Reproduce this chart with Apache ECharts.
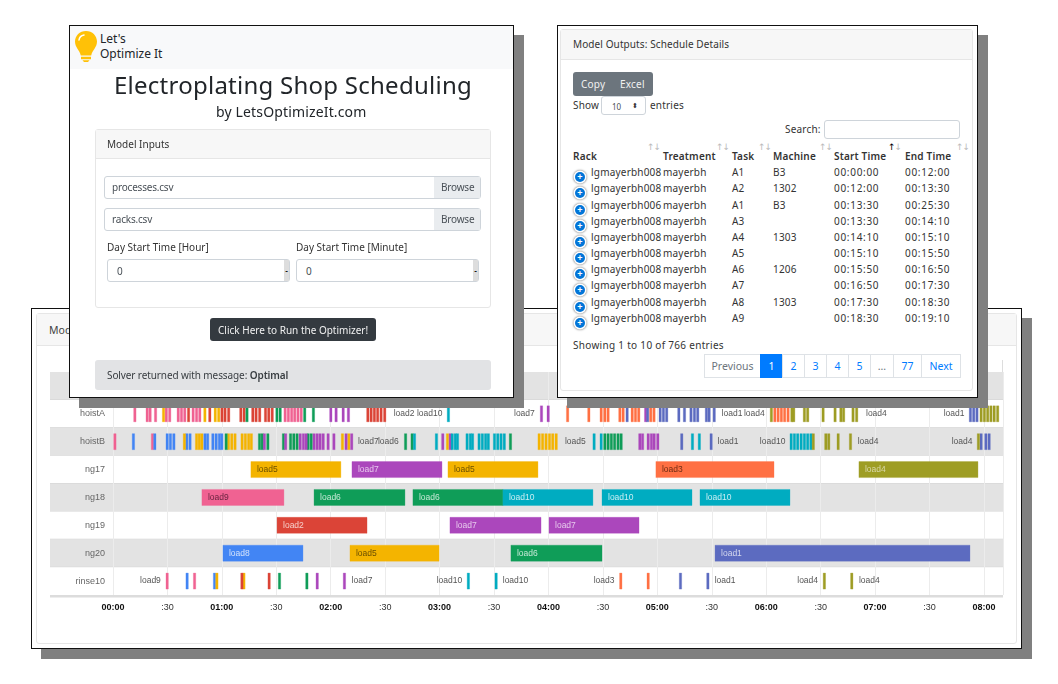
<!doctype html>
<html lang="en">

<head>
  <meta charset="UTF-8">
  <title>Electroplating Shop Scheduling</title>
  <style>
    * {
      margin: 0;
      padding: 0;
      box-sizing: border-box;
    }

    html,
    body {
      width: 1058px;
      height: 684px;
      overflow: hidden;
      background: #ffffff;
      font-family: "Noto Sans", sans-serif;
      font-size: 10px;
      color: #212529;
    }

    .box,
    .t {
      position: absolute;
    }

    .t {
      white-space: nowrap;
      transform: translateY(-50%);
    }

    .wide {
      letter-spacing: .2px;
    }

    .tight {
      letter-spacing: -.2px;
    }

    .shot {
      background: #ffffff;
      border: 1px solid #111111;
      box-shadow: 10px 10px 0 #808080;
    }

    .card {
      border: 1px solid #e6e6e6;
      border-radius: 3px;
      background: #ffffff;
    }

    .card-head {
      background: #f7f7f7;
      border-bottom: 1px solid #e6e6e6;
    }

    .input {
      background: #ffffff;
      border: 1px solid #ced4da;
      border-radius: 3px;
    }

    #main {
      position: absolute;
      left: 0;
      top: 0;
      width: 1058px;
      height: 684px;
    }

    .plus {
      position: absolute;
      left: 575px;
      width: 10px;
      height: 10px;
      border-radius: 50%;
      background: #0275d8;
      box-shadow: 0 0 0 1.5px #ffffff, 0 0 2px 2px #999999;
      color: #ffffff;
      font: bold 9px/10px "Liberation Sans", sans-serif;
      text-align: center;
    }

    .page {
      position: absolute;
      top: 354px;
      height: 24px;
      line-height: 22px;
      text-align: center;
      border: 1px solid #dee2e6;
      color: #007bff;
      font-size: 10.5px;
    }
  </style>
</head>

<body>
  <!-- timeline screenshot -->
  <div class="box shot" style="left:31px;top:308px;width:991px;height:341px"></div>
  <div class="box card" style="left:36px;top:313px;width:981px;height:331px"></div>
  <div class="box card-head" style="left:37px;top:314px;width:979px;height:32px"></div>
  <div class="t" style="left:49px;top:330px;font-size:10.5px;color:#444">Mod</div>
  <div class="box" style="left:1002px;top:360px;width:1px;height:12px;background:#dddddd"></div>
  <div id="main"></div>

  <!-- inputs screenshot -->
  <div class="box shot" style="left:69px;top:25px;width:445px;height:373px"></div>
  <div class="box" style="left:70px;top:26px;width:443px;height:43px;background:#f8f9fa"></div>
  <svg class="box" style="left:74px;top:30px" width="24" height="33" viewBox="0 0 24 33">
    <path d="M12 1C5.6 1 1 5.800 1 11.500c0 6 4.600 8.500 5.800 14h10.400c1.200-5.500 5.800-8 5.800-14C23 5.800 18.400 1 12 1z" fill="#ffc107" />
    <path d="M7 26.800h10v2.400H7zM8.500 30.200h7L14 32h-4z" fill="#ffc107" />
    <path d="M5 10c.4-2.800 2.300-4.600 5-5" fill="none" stroke="#ffffff" stroke-width="1.500" stroke-linecap="round" />
  </svg>
  <div class="t" style="left:100px;top:38px;font-size:12px">Let's</div>
  <div class="t" style="left:100px;top:53px;font-size:12px">Optimize It</div>
  <div class="t" style="left:114px;top:84px;font-size:24px;letter-spacing:.25px">Electroplating Shop Scheduling</div>
  <div class="t" style="left:216px;top:111px;font-size:14px;letter-spacing:.15px">by LetsOptimizeIt.com</div>

  <div class="box card" style="left:95px;top:129px;width:396px;height:179px"></div>
  <div class="box card-head" style="left:96px;top:130px;width:394px;height:29px"></div>
  <div class="t" style="left:107px;top:144px;font-size:10px;color:#333">Model Inputs</div>

  <div class="box input" style="left:104px;top:176px;width:377px;height:23px"></div>
  <div class="box" style="left:434px;top:177px;width:46px;height:21px;background:#e9ecef"></div>
  <div class="t tight" style="left:112px;top:187px;color:#495057">processes.csv</div>
  <div class="t tight" style="left:441px;top:187px;color:#495057">Browse</div>
  <div class="box input" style="left:104px;top:208px;width:377px;height:23px"></div>
  <div class="box" style="left:434px;top:209px;width:46px;height:21px;background:#e9ecef"></div>
  <div class="t tight" style="left:112px;top:219px;color:#495057">racks.csv</div>
  <div class="t tight" style="left:441px;top:219px;color:#495057">Browse</div>

  <div class="t" style="left:107px;top:247px;color:#333">Day Start Time [Hour]</div>
  <div class="t" style="left:296px;top:247px;color:#333">Day Start Time [Minute]</div>
  <div class="box input" style="left:107px;top:259px;width:183px;height:23px"></div>
  <div class="box" style="left:284px;top:260px;width:5px;height:21px;background:#dddddd;color:#000;font:bold 8px/21px sans-serif;text-align:center">-</div>
  <div class="t" style="left:117px;top:271px;color:#495057">0</div>
  <div class="box input" style="left:296px;top:259px;width:183px;height:23px"></div>
  <div class="box" style="left:473px;top:260px;width:5px;height:21px;background:#dddddd;color:#000;font:bold 8px/21px sans-serif;text-align:center">-</div>
  <div class="t" style="left:306px;top:271px;color:#495057">0</div>

  <div class="box" style="left:210px;top:318px;width:166px;height:23px;background:#343a40;border-radius:3px"></div>
  <div class="t" style="left:218px;top:330px;color:#f1f1f1">Click Here to Run the Optimizer!</div>

  <div class="box" style="left:95px;top:360px;width:396px;height:30px;background:#e2e3e5;border-radius:3px"></div>
  <div class="t" style="left:107px;top:375px;color:#383d41;letter-spacing:-.1px">Solver returned with message: <b style="font-weight:600">Optimal</b></div>

  <!-- outputs screenshot -->
  <div class="box shot" style="left:557px;top:25px;width:421px;height:373px"></div>
  <div class="box card" style="left:560px;top:29px;width:413px;height:362px"></div>
  <div class="box card-head" style="left:561px;top:30px;width:411px;height:30px"></div>
  <div class="t" style="left:573px;top:44px;color:#333;letter-spacing:.1px">Model Outputs: Schedule Details</div>

  <div class="box" style="left:573px;top:72px;width:80px;height:24px;background:#6c757d;border-radius:3px"></div>
  <div class="t wide" style="left:581px;top:84px;color:#f1f1f1">Copy</div>
  <div class="t wide" style="left:620px;top:84px;color:#f1f1f1">Excel</div>

  <div class="t wide" style="left:573px;top:105px;color:#333">Show</div>
  <div class="box input" style="left:601px;top:96px;width:45px;height:19px"></div>
  <div class="t" style="left:612px;top:106px;font-size:8px;color:#495057">10</div>
  <div class="t" style="left:632px;top:105px;font-size:7px;color:#333">⬍</div>
  <div class="t wide" style="left:650px;top:105px;color:#333">entries</div>

  <div class="t wide" style="left:785px;top:129px;color:#333">Search:</div>
  <div class="box input" style="left:824px;top:120px;width:136px;height:19px"></div>

  <div id="table"></div>

  <div class="t" style="left:573px;top:345px;color:#333;letter-spacing:.3px">Showing 1 to 10 of 766 entries</div>
  <div id="pages"></div>
</body>

</html>
<script src="https://cdn.jsdelivr.net/npm/echarts@6/dist/echarts.min.js"></script>
<script>
  // schedule table
  let headers = [
    ['Rack', 573, 651], ['Treatment', 663, 720], ['Task', 732, 762],
    ['Machine', 773, 823], ['Start Time', 834, 892], ['End Time', 905, 960]
  ];
  let rows = [
    ['lgmayerbh008', 'mayerbh', 'A1', 'B3', '00:00:00', '00:12:00'],
    ['lgmayerbh008', 'mayerbh', 'A2', '1302', '00:12:00', '00:13:30'],
    ['lgmayerbh006', 'mayerbh', 'A1', 'B3', '00:13:30', '00:25:30'],
    ['lgmayerbh008', 'mayerbh', 'A3', '', '00:13:30', '00:14:10'],
    ['lgmayerbh008', 'mayerbh', 'A4', '1303', '00:14:10', '00:15:10'],
    ['lgmayerbh008', 'mayerbh', 'A5', '', '00:15:10', '00:15:50'],
    ['lgmayerbh008', 'mayerbh', 'A6', '1206', '00:15:50', '00:16:50'],
    ['lgmayerbh008', 'mayerbh', 'A7', '', '00:16:50', '00:17:30'],
    ['lgmayerbh008', 'mayerbh', 'A8', '1303', '00:17:30', '00:18:30'],
    ['lgmayerbh008', 'mayerbh', 'A9', '', '00:18:30', '00:19:10']
  ];
  let colX = [591, 663, 732, 773, 834, 905];
  let rowY = [172, 188, 205, 221, 237, 253, 269, 285, 302, 318];
  let str = '';
  headers.forEach(function (h) {
    let dark = h[0] === 'Start Time' ? '#000000' : '#bbbbbb';
    str += `<div class="t wide" style="left:${h[1]}px;top:156px;font-weight:600;color:#333">${h[0]}</div>`;
    str += `<div class="t" style="left:${h[2] - 4}px;top:147px;font-size:9px;letter-spacing:-1px;font-family:'DejaVu Sans';color:#bbb"><span style="color:${dark}">↑</span>↓</div>`;
  });
  rows.forEach(function (r, i) {
    str += `<div class="plus" style="top:${rowY[i] + 0}px">+</div>`;
    r.forEach(function (v, j) {
      let gap = j >= 4 ? .7 : .2;
      if (v) str += `<div class="t" style="left:${colX[j]}px;top:${rowY[i]}px;color:#333;letter-spacing:${gap}px">${v}</div>`;
    });
  });
  document.getElementById('table').innerHTML = str;

  let pages = [
    ['Previous', 704, 56], ['1', 760, 22], ['2', 782, 22], ['3', 804, 22], ['4', 826, 22],
    ['5', 848, 22], ['…', 870, 23], ['77', 893, 28], ['Next', 921, 39]
  ];
  str = '';
  pages.forEach(function (p) {
    let extra = p[0] === '1' ? 'background:#007bff;border-color:#007bff;color:#fff;' : (p[0] === 'Previous' || p[0] === '…' ? 'color:#6c757d;' : '');
    str += `<div class="page" style="left:${p[1]}px;width:${p[2] + 1}px;${extra}">${p[0]}</div>`;
  });
  document.getElementById('pages').innerHTML = str;

  // timeline, all times in minutes from 00:00
  let loadColors = {
    load1: '#5c6bc0', load2: '#db4437', load3: '#ff7043', load4: '#9e9d24', load5: '#f4b400',
    load6: '#0f9d58', load7: '#ab47bc', load8: '#4285f4', load9: '#f06292', load10: '#00acc1'
  };
  let loadText = {
    load1: '#d5d8ee', load2: '#f6cfca', load3: '#6e2c14', load4: '#d9d8a8', load5: '#6b5000',
    load6: '#c4e8d5', load7: '#e6c8ec', load8: '#d2e2fc', load9: '#6a2440', load10: '#c8eef3'
  };
  let machines = ['', 'hoistA', 'hoistB', 'ng17', 'ng18', 'ng19', 'ng20', 'rinse10'];

  // long treatments: [machine, load, start, end]
  let longTasks = [
    ['ng17', 'load5', 76, 125.6], ['ng17', 'load7', 131.7, 181.3], ['ng17', 'load5', 184.6, 234.2],
    ['ng17', 'load3', 299.2, 364.3], ['ng17', 'load4', 411.1, 476.7],
    ['ng18', 'load9', 49, 94.2], ['ng18', 'load6', 110.8, 160.9], ['ng18', 'load6', 165.3, 214.9],
    ['ng18', 'load10', 214.9, 264.5], ['ng18', 'load10', 269.5, 319.1], ['ng18', 'load10', 323.5, 373.1],
    ['ng19', 'load2', 90.4, 140], ['ng19', 'load7', 185.7, 235.9], ['ng19', 'load7', 240.3, 289.9],
    ['ng20', 'load8', 60.6, 104.7], ['ng20', 'load5', 130.6, 179.7], ['ng20', 'load6', 219.3, 269.5],
    ['ng20', 'load1', 331.8, 472.3]
  ];

  // short hoist and rinse moves: start minutes per load
  let shortTasks = {
    hoistA: [
      ['load9', [11.4, 18.2, 19.8, 22.8, 28.7, 30.6, 35.3, 37.1, 38.9, 43.5, 45.4, 47.2, 94.2, 96, 97.8, 99.5, 101.3, 103.1]],
      ['load5', [27.2, 50, 55.7, 57.6]],
      ['load2', [41, 52.7, 59.4, 61.1, 63.1, 69.8, 71.6, 76.4, 78.2, 80.2, 83.4, 85.2, 87.1, 139.8, 141.6, 143.4, 145.2, 147.1, 149.1]],
      ['load6', [73.2, 89.7, 91.5, 105, 109.8]],
      ['load7', [119.4, 122.3, 126.2, 129.1, 235.5, 239.2, 292.9]],
      ['load10', [184.2]],
      ['load3', [249.9, 261.6, 268.4, 270.4, 272.2, 278.7, 280.5, 285.5, 287.3, 289.1, 295.7, 297.5, 364.1, 365.9, 367.7, 369.5, 371.4]],
      ['load1', [282.7, 294, 300.9, 302.7, 304.5, 311.2, 314.3, 317.9, 319.8, 321.6, 326.4, 327.9, 330.7, 471.9, 473.7, 475.5]],
      ['load4', [362.2, 373.5, 374.5, 380.4, 382.2, 390.7, 397.3, 400.5, 402, 407.2, 409.2, 477.8, 479.6, 481.4, 483.2, 485, 486.9]]
    ],
    hoistB: [
      ['load9', [0.4, 21.1]],
      ['load8', [10.6, 22.4, 29.2, 31, 32.9, 40, 41.8, 50, 51.5, 54.4, 56.2, 58, 59.3]],
      ['load5', [38.7, 45.4, 46.9, 48.3, 63, 64.8, 66.6, 70.5, 72.3, 74.1, 75.6, 125.8, 129.3, 183.7, 234.2, 236.1, 238, 239.9, 241.7, 243.6]],
      ['load6', [61.7, 80.1, 81.6, 84.7, 93.3, 97.2, 99, 100.8, 106.9, 108.6, 160.6, 164.2, 218.4, 270.4, 272.2, 274, 275.8, 277.7, 279.4]],
      ['load7', [82.8, 94.5, 102.5, 104.3, 105.8, 110.2, 111.9, 113.5, 115.2, 117.9, 121.1, 127.8, 130.9, 181.1, 185.2, 289.7, 291.2, 294.3, 296.1, 297.6, 299.6]],
      ['load10', [165.5, 177.6, 186.3, 188, 189.2, 194.5, 196.3, 197.5, 201.1, 202.9, 204.7, 206.2, 209.6, 211.4, 213.2, 215, 264.5, 268.4, 318.7, 322.5, 373.1, 374.9, 376.7, 378.6, 380.4, 382.2, 384]],
      ['load1', [312.8, 329, 477.8, 480.4, 482.2]],
      ['load4', [385.3, 392.2, 393.8, 399, 405.8, 476.3]]
    ],
    rinse10: [
      ['load9', [29.2, 44.3]],
      ['load8', [40.2, 55.3]],
      ['load5', [56.6, 71.5]],
      ['load2', [70.4, 85.4]],
      ['load6', [91.1, 106.2]],
      ['load7', [111.9, 126.9]],
      ['load10', [195.2, 210.5]],
      ['load3', [279.2, 294.3]],
      ['load1', [312.1, 327.2]],
      ['load4', [391.4, 406.5]]
    ]
  };
  let shortLength = 1.3;

  // labels placed next to the short moves: [machine, text, minute]
  let sideLabels = [
    ['hoistA', 'load2', 154.7], ['hoistA', 'load10', 167.5], ['hoistA', 'load7', 221],
    ['hoistA', 'load1', 335.4], ['hoistA', 'load4', 347.7], ['hoistA', 'load4', 415], ['hoistA', 'load1', 457.8],
    ['hoistB', 'load7', 135], ['hoistB', 'load6', 146], ['hoistB', 'load5', 249.1],
    ['hoistB', 'load1', 333.2], ['hoistB', 'load10', 356.5], ['hoistB', 'load4', 410.4], ['hoistB', 'load4', 462.2],
    ['rinse10', 'load9', 14.9], ['rinse10', 'load7', 131.5], ['rinse10', 'load10', 178.4], ['rinse10', 'load10', 214.8],
    ['rinse10', 'load3', 264.9], ['rinse10', 'load1', 331.6], ['rinse10', 'load4', 377.1], ['rinse10', 'load4', 411.1]
  ];

  let tasks = [];
  longTasks.forEach(function (t) {
    tasks.push({ value: [machines.indexOf(t[0]), t[2], t[3]], load: t[1], named: true });
  });
  Object.keys(shortTasks).forEach(function (m) {
    shortTasks[m].forEach(function (group) {
      group[1].forEach(function (start) {
        tasks.push({ value: [machines.indexOf(m), start, start + shortLength], load: group[0] });
      });
    });
  });

  let myChart = echarts.init(document.getElementById('main'));
  let option = {
    animation: false,
    textStyle: {
      fontFamily: '"Liberation Sans", Arial, sans-serif'
    },
    grid: {
      left: 113,
      top: 372,
      width: 890,
      height: 223
    },
    xAxis: {
      type: 'value',
      min: 0,
      max: 490.5,
      interval: 30,
      z: 2,
      axisLine: { show: false },
      axisTick: { show: false },
      splitLine: {
        lineStyle: { color: '#ececec', width: 1 }
      },
      axisLabel: {
        showMaxLabel: false,
        margin: 8,
        fontSize: 9,
        color: '#333333',
        formatter: function (v) {
          if (v % 60 === 0) {
            let h = v / 60;
            return '{b|' + (h < 10 ? '0' + h : h) + ':00}';
          }
          return ':30';
        },
        rich: {
          b: { fontSize: 9, fontWeight: 'bold', color: '#111111' }
        }
      }
    },
    yAxis: {
      type: 'category',
      inverse: true,
      data: machines,
      z: 2,
      axisLine: { show: false },
      axisTick: { show: false },
      splitLine: { show: false },
      axisLabel: {
        margin: 8,
        fontSize: 9,
        color: '#666666'
      }
    },
    series: [
      {
        // row bands, they run on under the machine names
        type: 'custom',
        z: 1,
        silent: true,
        clip: false,
        data: machines.map(function (m, i) { return [i]; }),
        encode: { y: 0 },
        renderItem: function (params, api) {
          let box = params.coordSys;
          let i = api.value(0);
          let h = box.height / machines.length;
          let y = box.y + i * h;
          let last = i === machines.length - 1;
          return {
            type: 'group',
            children: [
              {
                type: 'rect',
                shape: { x: 50, y: y, width: box.x + box.width - 50, height: h },
                style: { fill: i % 2 === 0 ? '#e3e3e3' : '#ffffff' }
              },
              {
                type: 'rect',
                shape: { x: 50, y: y + h - (last ? 0 : 0.5), width: box.x + box.width - 50, height: last ? 2.5 : 1 },
                style: { fill: last ? '#dcdcdc' : '#d2d2d2' }
              }
            ]
          };
        }
      },
      {
        type: 'custom',
        z: 3,
        data: tasks,
        encode: { x: [1, 2], y: 0 },
        renderItem: function (params, api) {
          let t = tasks[params.dataIndex];
          let from = api.coord([api.value(1), api.value(0)]);
          let to = api.coord([api.value(2), api.value(0)]);
          let color = loadColors[t.load];
          let children = [{
            type: 'rect',
            shape: { x: from[0], y: from[1] - 8, width: to[0] - from[0], height: 16 },
            style: {
              fill: color,
              stroke: echarts.color.modifyAlpha(color, 0.3),
              lineWidth: 1
            }
          }];
          if (t.named) {
            children.push({
              type: 'text',
              style: {
                x: from[0] + 6,
                y: from[1],
                text: t.load,
                fill: loadText[t.load],
                fontSize: 8.5,
                fontFamily: '"Liberation Sans", Arial, sans-serif',
                verticalAlign: 'middle'
              }
            });
          }
          return { type: 'group', children: children };
        }
      },
      {
        type: 'custom',
        z: 4,
        silent: true,
        data: sideLabels.map(function (l) { return [machines.indexOf(l[0]), l[2]]; }),
        encode: { x: 1, y: 0 },
        renderItem: function (params, api) {
          let p = api.coord([api.value(1), api.value(0)]);
          return {
            type: 'text',
            style: {
              x: p[0],
              y: p[1],
              text: sideLabels[params.dataIndex][1],
              fill: '#555555',
              fontSize: 8.5,
              fontFamily: '"Liberation Sans", Arial, sans-serif',
              verticalAlign: 'middle'
            }
          };
        }
      }
    ]
  };
  myChart.setOption(option);
</script>
